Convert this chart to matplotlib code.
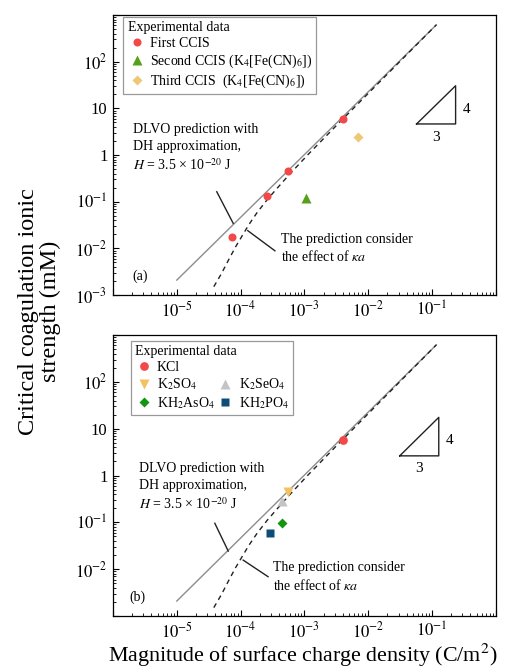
#plot of critical coagulation ionic strength vs surface charge density
import numpy as np
import matplotlib
matplotlib.use("Agg")
import matplotlib.pyplot as plt
from matplotlib.ticker import FixedLocator, FixedFormatter, LogLocator, NullFormatter

plt.rcParams['font.family'] = ['Liberation Serif', 'DejaVu Serif']
plt.rcParams['mathtext.fontset'] = 'stix'
plt.rcParams['xtick.top'] = False
plt.rcParams['ytick.right'] = False

#theory curves
dlvo_x = [1e-5, 0.117]
dlvo_y = [2.09e-3, 617]
ka_x = [3.80e-5, 5.01e-5, 6.46e-5, 8.32e-5, 1.07e-4, 1.35e-4, 1.82e-4, 2.63e-4,
        3.98e-4, 5.62e-4, 1.12e-3, 3.16e-3, 1e-2, 3.16e-2, 0.117]
ka_y = [1.51e-3, 2.88e-3, 5.62e-3, 1.07e-2, 1.91e-2, 3.24e-2, 5.89e-2, 0.112,
        0.214, 0.363, 1.0, 4.27, 20.9, 102, 617]

#panel (a) data
first_x = [7.2e-5, 2.6e-4, 5.6e-4, 4.0e-3]
first_y = [0.0174, 0.132, 0.46, 5.8]
second_x = [1.07e-3]
second_y = [0.12]
third_x = [6.9e-3]
third_y = [2.45]

#panel (b) data
kcl_x, kcl_y = [4.1e-3], [5.6]
k2so4_x, k2so4_y = [5.6e-4], [0.45]
k2seo4_x, k2seo4_y = [4.4e-4], [0.28]
kh2aso4_x, kh2aso4_y = [4.4e-4], [0.098]
kh2po4_x, kh2po4_y = [2.9e-4], [0.059]

x_ticks = [1e-6, 1e-5, 1e-4, 1e-3, 1e-2, 1e-1, 1e0]
x_labels = ['', r'$10^{-5}$', r'$10^{-4}$', r'$10^{-3}$', r'$10^{-2}$', r'$10^{-1}$', '']
y_ticks = [1e-3, 1e-2, 1e-1, 1, 10, 100, 1000]
y_labels_a = [r'$10^{-3}$', r'$10^{-2}$', r'$10^{-1}$', '1', '10', r'$10^{2}$', '']
y_labels_b = ['', r'$10^{-2}$', r'$10^{-1}$', '1', '10', r'$10^{2}$', '']

fig = plt.figure(figsize=(5.07, 6.69), dpi=100)
ax_a = fig.add_axes([0.2229, 0.559, 0.755, 0.4185])
ax_b = fig.add_axes([0.2229, 0.0792, 0.755, 0.42])


def setup_axis(ax, ylabels):
    ax.set_xscale('log')
    ax.set_yscale('log')
    ax.set_xlim(1e-6, 1e0)
    ax.set_ylim(1e-3, 1e3)
    ax.xaxis.set_major_locator(FixedLocator(x_ticks))
    ax.xaxis.set_major_formatter(FixedFormatter(x_labels))
    ax.yaxis.set_major_locator(FixedLocator(y_ticks))
    ax.yaxis.set_major_formatter(FixedFormatter(ylabels))
    for a in (ax.xaxis, ax.yaxis):
        a.set_minor_locator(LogLocator(base=10, subs=np.arange(2, 10), numticks=20))
        a.set_minor_formatter(NullFormatter())
    ax.tick_params(which='both', direction='in', labelsize=12, pad=4,
                   top=False, right=False, bottom=True, left=True)
    ax.tick_params(which='major', length=4, width=0.8)
    ax.tick_params(which='minor', length=2.2, width=0.6)
    for s in ax.spines.values():
        s.set_linewidth(0.9)
    #theory lines
    ax.plot(dlvo_x, dlvo_y, color='#8c8c8c', lw=1.0, zorder=2)
    ax.plot(ka_x, ka_y, color='#222222', lw=1.0, ls=(0, (3.5, 3)), zorder=2)


def annotate(ax, tx, ty, px1, px2, bx, by, tri, n4, n3, tag, tagpos):
    tr = ax.transAxes
    fs = 10
    ax.text(tx, ty[0], 'DLVO prediction with', transform=tr, fontsize=fs, va='center')
    ax.text(tx, ty[1], 'DH approximation,', transform=tr, fontsize=fs, va='center')
    ax.text(tx, ty[2], r'$H$ = 3.5 × 10$^{-20}$ J', transform=tr, fontsize=fs, va='center')
    ax.plot(px1[0], px1[1], color='#222222', lw=1.0, transform=tr)
    ax.text(bx, by[0], 'The prediction consider', transform=tr, fontsize=fs, va='center')
    ax.text(bx, by[1], r'the effect of $\kappa a$', transform=tr, fontsize=fs, va='center')
    ax.plot(px2[0], px2[1], color='#222222', lw=1.0, transform=tr)
    #slope triangle
    ax.plot(tri[0], tri[1], color='#222222', lw=1.0, transform=tr)
    ax.text(n4[0], n4[1], '4', transform=tr, fontsize=11, ha='center', va='center')
    ax.text(n3[0], n3[1], '3', transform=tr, fontsize=11, ha='center', va='center')
    ax.text(tagpos[0], tagpos[1], tag, transform=tr, fontsize=10, va='center')


setup_axis(ax_a, y_labels_a)
setup_axis(ax_b, y_labels_b)

leg_kw = dict(loc='upper left', borderaxespad=0, fontsize=10, title_fontsize=10,
              handlelength=1.3, handletextpad=0.3, labelspacing=0.2, borderpad=0.3,
              fancybox=False, framealpha=1, edgecolor='#999999')

#panel (a) markers
h1, = ax_a.plot(first_x, first_y, 'o', color='#f34848', ms=5.8, mec='none', zorder=3, label='First CCIS')
h2, = ax_a.plot(second_x, second_y, '^', color='#58a01c', ms=6.5, mec='none', zorder=3,
                label=r'Second CCIS (K$_4$[Fe(CN)$_6$])')
h3, = ax_a.plot(third_x, third_y, 'D', color='#eec777', ms=5.5, mec='none', zorder=3,
                label=r'Third CCIS  (K$_4$[Fe(CN)$_6$])')
leg = ax_a.legend(handles=[h1, h2, h3], title='Experimental data',
                  bbox_to_anchor=(0.027, 0.994), **leg_kw)
leg._legend_box.align = 'left'
leg.get_frame().set_linewidth(0.9)

annotate(ax_a, 0.051, [0.593, 0.529, 0.464],
         ([0.271, 0.314], [0.369, 0.256]), ([0.352, 0.423], [0.230, 0.158]),
         0.438, [0.200, 0.136],
         ([0.793, 0.895, 0.895, 0.793], [0.611, 0.611, 0.7475, 0.611]),
         (0.924, 0.664), (0.843, 0.564), '(a)', (0.051, 0.068))

#panel (b) markers
b1, = ax_b.plot(kcl_x, kcl_y, 'o', color='#f34848', ms=6.3, mec='none', zorder=3, label='KCl')
b2, = ax_b.plot(k2so4_x, k2so4_y, 'v', color='#f2c261', ms=7, mec='none', zorder=3, label=r'K$_2$SO$_4$')
b3, = ax_b.plot(k2seo4_x, k2seo4_y, '^', color='#c4c4c4', ms=6.5, mec='none', zorder=3, label=r'K$_2$SeO$_4$')
b4, = ax_b.plot(kh2aso4_x, kh2aso4_y, 'D', color='#129612', ms=5.5, mec='none', zorder=3,
                label=r'KH$_2$AsO$_4$')
b5, = ax_b.plot(kh2po4_x, kh2po4_y, 's', color='#0d4d78', ms=5.5, mec='none', zorder=3,
                label=r'KH$_2$PO$_4$')
blank, = ax_b.plot([], [], ls='none', marker='none', label=' ')
leg_b = ax_b.legend(handles=[b1, b2, b4, blank, b3, b5], title='Experimental data', ncol=2,
                    bbox_to_anchor=(0.046, 0.98), columnspacing=0.1, **leg_kw)
leg_b._legend_box.align = 'left'
leg_b.get_frame().set_linewidth(0.9)

annotate(ax_b, 0.068, [0.526, 0.464, 0.398],
         ([0.266, 0.301], [0.330, 0.231]), ([0.340, 0.405], [0.199, 0.140]),
         0.4185, [0.172, 0.110],
         ([0.749, 0.851, 0.851, 0.749], [0.570, 0.570, 0.707, 0.570]),
         (0.880, 0.626), (0.800, 0.526), '(b)', (0.0426, 0.0665))

#shared axis labels
fig.text(0.077, 0.534, 'Critical coagulation ionic\nstrength (mM)', rotation=90,
         ha='center', va='center', fontsize=17.5, multialignment='center', linespacing=1.05)
fig.text(0.598, 0.0115, r'Magnitude of surface charge density (C/m$^2$)',
         ha='center', va='baseline', fontsize=15.8)

fig.savefig('out.png', dpi=100)
